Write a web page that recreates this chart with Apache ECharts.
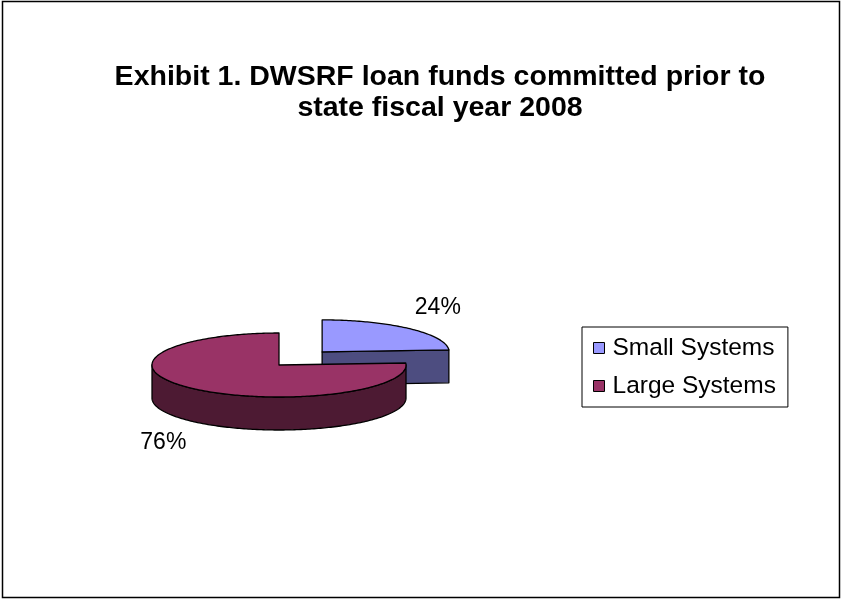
<!DOCTYPE html>
<html>
<head>
<meta charset="utf-8">
<script src="https://cdn.jsdelivr.net/npm/echarts@6/dist/echarts.min.js"></script>
<style>
html,body{margin:0;padding:0;background:#fff;}
#chart{width:844px;height:601px;}
</style>
</head>
<body>
<div id="chart"></div>
<script>
// ---- data ----
const categories = ['Small Systems', 'Large Systems'];
const shares = [24, 76];
const pctLabels = ['24%', '76%'];
const titleLines = ['Exhibit 1. DWSRF loan funds committed prior to', 'state fiscal year 2008'];

// ---- styles / layout ----
const topColors = ['#9999FF', '#993366'];
const sideColors = ['#4D4D80', '#4D1A33'];
const FONT = "'Liberation Sans', Arial, sans-serif";
const PIE = { cx: 279, cy: 365, rx: 127, ry: 32, h: 33 };
const EXPLODE = { x: 63, y: 18, index: 0 };

function renderItem(params, api) {
  const i = params.seriesIndex;
  const total = shares.reduce((a, b) => a + b, 0);
  const before = shares.slice(0, i).reduce((a, b) => a + b, 0);
  const v = api.value(0);
  const s = before / total * 360, e = (before + v) / total * 360, mid = (s + e) / 2;
  const rad = d => d * Math.PI / 180;
  let cx = PIE.cx, cy = PIE.cy;
  if (i === EXPLODE.index) {
    cx += EXPLODE.x * Math.sin(rad(mid));
    cy -= EXPLODE.y * Math.cos(rad(mid));
  }
  const pt = (a, dy) => [cx + PIE.rx * Math.sin(rad(a)), cy - PIE.ry * Math.cos(rad(a)) + (dy || 0)];
  const arc = (a, b, dy) => {
    const n = Math.max(2, Math.ceil(Math.abs(b - a)));
    const out = [];
    for (let k = 0; k <= n; k++) out.push(pt(a + (b - a) * k / n, dy));
    return out;
  };
  const sideStyle = { fill: sideColors[i], stroke: '#000', lineWidth: 1.3, lineJoin: 'round' };
  const children = [];
  if (Math.sin(rad(s)) < -1e-6) {
    children.push({ type: 'polygon', shape: { points: [[cx, cy], pt(s), pt(s, PIE.h), [cx, cy + PIE.h]] }, style: sideStyle });
  }
  if (Math.sin(rad(e)) > 1e-6) {
    children.push({ type: 'polygon', shape: { points: [[cx, cy], pt(e), pt(e, PIE.h), [cx, cy + PIE.h]] }, style: sideStyle });
  }
  const a = Math.max(s, 90), b = Math.min(e, 270);
  if (b > a) {
    children.push({ type: 'polygon', shape: { points: arc(a, b, 0).concat(arc(b, a, PIE.h)) }, style: sideStyle });
  }
  children.push({ type: 'polygon', shape: { points: [[cx, cy]].concat(arc(s, e, 0)) },
    style: { fill: topColors[i], stroke: '#000', lineWidth: 1.3, lineJoin: 'round' } });
  const cm = Math.cos(rad(mid));
  children.push({
    type: 'text',
    style: {
      x: cx + (PIE.rx + 42) * Math.sin(rad(mid)),
      y: cy - (PIE.ry + 29) * cm + (cm < 0 ? PIE.h : 0),
      text: pctLabels[i], fill: '#000', font: '23px ' + FONT,
      align: 'center', verticalAlign: 'middle'
    }
  });
  return { type: 'group', children };
}

const chart = echarts.init(document.getElementById('chart'));
chart.setOption({
  animation: false,
  backgroundColor: '#fff',
  title: {
    text: titleLines.join('\n'),
    left: 440, top: 62, padding: 0,
    textAlign: 'center',
    textStyle: { fontFamily: FONT, fontSize: 28.5, fontWeight: 'bold', lineHeight: 31, color: '#000' }
  },
  legend: {
    data: categories,
    orient: 'vertical',
    left: 582, top: 327,
    padding: [8, 12, 8, 11],
    itemGap: 12,
    itemWidth: 11, itemHeight: 11,
    icon: 'rect',
    borderColor: '#000', borderWidth: 1,
    itemStyle: { borderColor: '#000', borderWidth: 1 },
    textStyle: { fontFamily: FONT, fontSize: 24.5, lineHeight: 26, color: '#000', padding: [0, 0, 0, 3] }
  },
  graphic: [{
    type: 'rect', silent: true,
    shape: { x: 2.5, y: 1.5, width: 837, height: 596 },
    style: { fill: null, stroke: '#000', lineWidth: 1.5 }
  }],
  series: categories.map((name, i) => ({
    type: 'custom',
    name: name,
    coordinateSystem: 'none',
    renderItem: renderItem,
    itemStyle: { color: topColors[i] },
    data: [[shares[i]]]
  }))
});
</script>
</body>
</html>
